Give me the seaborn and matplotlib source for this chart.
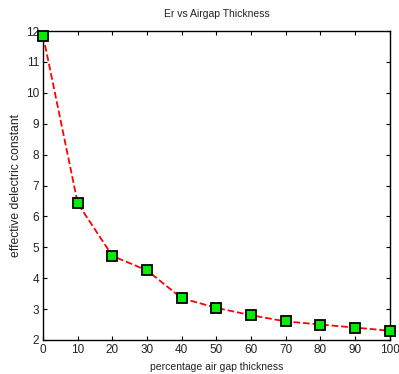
import numpy as np
import pandas as pd
import matplotlib
matplotlib.use('Agg')
import matplotlib.pyplot as plt
import seaborn as sns

# donnees
air_gap = [0, 10, 20, 30, 40, 50, 60, 70, 80, 90, 100]
er_eff = [11.85, 6.42, 4.72, 4.25, 3.35, 3.04, 2.80, 2.60, 2.50, 2.40, 2.30]
x_ticks = [0, 10, 20, 30, 40, 50, 60, 70, 80, 90, 100]
y_ticks = [2, 3, 4, 5, 6, 7, 8, 9, 10, 11, 12]

df = pd.DataFrame({'air_gap': air_gap, 'er': er_eff})

sns.set_style('ticks')
plt.rcParams['font.family'] = ['Liberation Sans', 'DejaVu Sans']
plt.rcParams.update({'xtick.direction': 'in', 'ytick.direction': 'in',
                     'xtick.top': True, 'ytick.right': True,
                     'axes.edgecolor': 'black', 'xtick.color': 'black',
                     'ytick.color': 'black', 'text.color': '#222222',
                     'axes.labelcolor': '#222222'})

fig = plt.figure(figsize=(3.99, 3.74), dpi=100)
ax = fig.add_axes([0.108, 0.091, 0.869, 0.826])

sns.lineplot(data=df, x='air_gap', y='er', ax=ax, color='red',
             linestyle='--', lw=1.3, marker='s', markersize=7,
             markerfacecolor='#00ee00', markeredgecolor='black',
             markeredgewidth=1.3, clip_on=False, zorder=5)

ax.set_xlim(0, 100)
ax.set_ylim(2, 12)
ax.set_xticks(x_ticks)
ax.set_yticks(y_ticks)
ax.tick_params(labelsize=8.5, length=3, width=0.8, pad=3,
               labelcolor='#222222')
for s in ax.spines.values():
    s.set_linewidth(1.0)
ax.set_xlabel('percentage air gap thickness', fontsize=7.5, labelpad=4)
ax.set_ylabel('effective delectric constant', fontsize=8.7, labelpad=3)
ax.set_title('Er vs Airgap Thickness', fontsize=7.5, pad=10)

plt.savefig('out.png', dpi=100)
plt.close()
